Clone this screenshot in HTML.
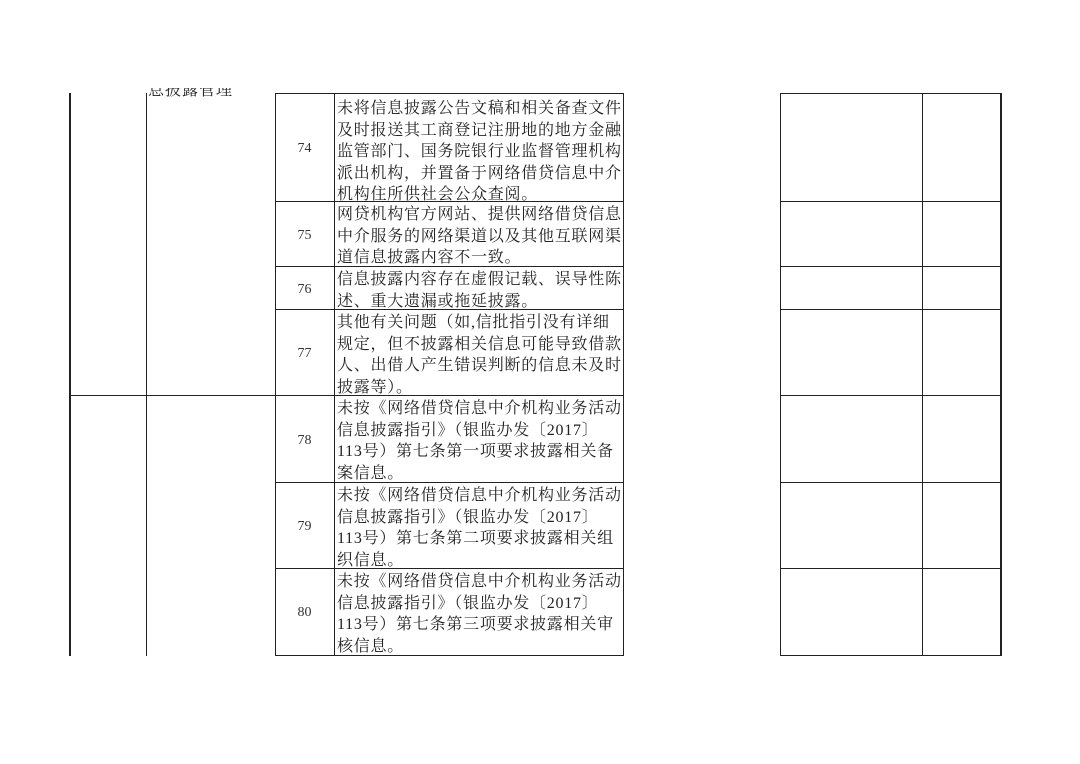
<!DOCTYPE html>
<html><head><meta charset="utf-8"><style>
body{margin:0;width:1080px;height:764px;background:#fff;position:relative;overflow:hidden;font-family:"Liberation Serif","Noto Serif CJK SC",serif;color:#222}
.l{position:absolute;background:#222}
.t{position:absolute;left:337px;font-size:16px;line-height:21.5px;letter-spacing:0.75px;white-space:nowrap}
.n{position:absolute;left:275px;width:59px;text-align:center;font-size:14px;color:#333}
</style></head><body>
<div style="position:absolute;left:148px;top:88px;height:12px;overflow:hidden;font-size:16px;line-height:16px;letter-spacing:1px"><div style="margin-top:-5px">息披露管理</div></div>
<div class="l" style="left:69px;top:93px;width:2px;height:563px"></div>
<div class="l" style="left:146px;top:93px;width:1px;height:563px"></div>
<div class="l" style="left:70px;top:395px;width:205px;height:1px"></div>
<div class="l" style="left:275px;top:93px;width:1px;height:563px"></div>
<div class="l" style="left:334px;top:93px;width:1px;height:563px"></div>
<div class="l" style="left:623px;top:93px;width:1px;height:563px"></div>
<div class="l" style="left:780px;top:93px;width:1px;height:563px"></div>
<div class="l" style="left:922px;top:93px;width:1px;height:563px"></div>
<div class="l" style="left:1000px;top:93px;width:2px;height:563px"></div>
<div class="l" style="left:275px;top:93px;width:349px;height:1px"></div>
<div class="l" style="left:780px;top:93px;width:221px;height:1px"></div>
<div class="l" style="left:275px;top:201px;width:349px;height:1px"></div>
<div class="l" style="left:780px;top:201px;width:221px;height:1px"></div>
<div class="l" style="left:275px;top:266px;width:349px;height:1px"></div>
<div class="l" style="left:780px;top:266px;width:221px;height:1px"></div>
<div class="l" style="left:275px;top:309px;width:349px;height:1px"></div>
<div class="l" style="left:780px;top:309px;width:221px;height:1px"></div>
<div class="l" style="left:275px;top:395px;width:349px;height:1px"></div>
<div class="l" style="left:780px;top:395px;width:221px;height:1px"></div>
<div class="l" style="left:275px;top:482px;width:349px;height:1px"></div>
<div class="l" style="left:780px;top:482px;width:221px;height:1px"></div>
<div class="l" style="left:275px;top:568px;width:349px;height:1px"></div>
<div class="l" style="left:780px;top:568px;width:221px;height:1px"></div>
<div class="l" style="left:275px;top:655px;width:349px;height:1px"></div>
<div class="l" style="left:780px;top:655px;width:221px;height:1px"></div>

<div class="n" style="top:141px">74</div>
<div class="t" style="top:98px">未将信息披露公告文稿和相关备查文件<br>及时报送其工商登记注册地的地方金融<br>监管部门、国务院银行业监督管理机构<br>派出机构，并置备于网络借贷信息中介<br>机构住所供社会公众查阅。</div>

<div class="n" style="top:228px">75</div>
<div class="t" style="top:204px">网贷机构官方网站、提供网络借贷信息<br>中介服务的网络渠道以及其他互联网渠<br>道信息披露内容不一致。</div>

<div class="n" style="top:282px">76</div>
<div class="t" style="top:269px">信息披露内容存在虚假记载、误导性陈<br>述、重大遗漏或拖延披露。</div>

<div class="n" style="top:346px">77</div>
<div class="t" style="top:312px">其他有关问题（如,信批指引没有详细<br>规定，但不披露相关信息可能导致借款<br>人、出借人产生错误判断的信息未及时<br>披露等）。</div>

<div class="n" style="top:433px">78</div>
<div class="t" style="top:398px">未按《网络借贷信息中介机构业务活动<br>信息披露指引》（银监办发〔2017〕<br>113号）第七条第一项要求披露相关备<br>案信息。</div>

<div class="n" style="top:519px">79</div>
<div class="t" style="top:485px">未按《网络借贷信息中介机构业务活动<br>信息披露指引》（银监办发〔2017〕<br>113号）第七条第二项要求披露相关组<br>织信息。</div>

<div class="n" style="top:605px">80</div>
<div class="t" style="top:571px">未按《网络借贷信息中介机构业务活动<br>信息披露指引》（银监办发〔2017〕<br>113号）第七条第三项要求披露相关审<br>核信息。</div>
</body></html>
